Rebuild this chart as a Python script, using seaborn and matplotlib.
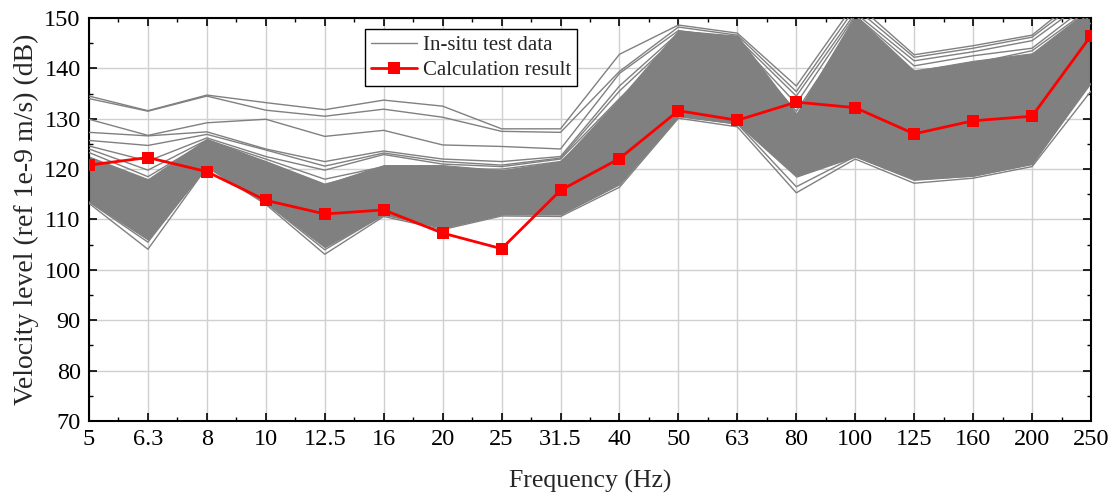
import matplotlib
matplotlib.use("Agg")
import matplotlib.pyplot as plt
from matplotlib.lines import Line2D
from matplotlib.ticker import MultipleLocator, FixedLocator
import numpy as np
import pandas as pd
import seaborn as sns

freq_labels = ["5", "6.3", "8", "10", "12.5", "16", "20", "25", "31.5", "40",
               "50", "63", "80", "100", "125", "160", "200", "250"]

calc_result = [120.8, 122.3, 119.5, 113.8, 111.1, 111.9, 107.3, 104.2, 115.8,
               122.1, 131.6, 129.7, 133.3, 132.2, 127.0, 129.6, 130.5, 146.5]

# dense core of the in-situ test data (lower / upper edges of the bundle)
band_low = [113.6, 106.0, 120.5, 113.3, 104.5, 111.0, 108.3, 111.0, 111.0,
            117.0, 130.5, 129.0, 118.5, 122.5, 118.0, 118.7, 121.0, 137.5]
band_high = [122.5, 118.0, 126.0, 121.5, 117.0, 120.8, 120.8, 119.8, 121.5,
             134.0, 147.5, 146.5, 131.0, 150.5, 139.5, 141.5, 143.0, 152.0]

# individually visible test curves
run_a = [134.5, 131.6, 134.7, 133.2, 131.8, 133.7, 132.5, 128.0, 128.0,
         142.8, 148.6, 147.0, 136.5, 153.0, 142.7, 144.5, 146.6, 156.0]
run_b = [134.0, 131.5, 134.5, 131.7, 130.5, 131.9, 130.3, 127.5, 127.3,
         139.4, 148.2, 146.6, 135.4, 152.0, 142.2, 144.0, 146.2, 155.0]
run_c = [129.9, 126.7, 129.2, 129.9, 126.5, 127.7, 124.8, 124.5, 124.0,
         139.0, 147.5, 146.0, 134.5, 151.0, 141.5, 143.3, 145.5, 154.0]
run_d = [127.3, 126.6, 127.4, 124.0, 121.5, 123.6, 122.0, 121.5, 122.5,
         136.5, 147.0, 145.5, 133.0, 150.5, 140.5, 142.5, 144.0, 153.0]
run_e = [125.7, 124.7, 126.9, 123.8, 120.6, 123.2, 121.5, 120.8, 122.2,
         135.5, 146.5, 145.0, 131.5, 149.0, 139.5, 141.0, 143.5, 152.0]
run_f = [124.6, 121.6, 126.2, 122.5, 119.8, 122.9, 121.0, 120.5, 122.0,
         134.0, 145.5, 144.0, 130.0, 147.0, 138.0, 140.0, 142.5, 151.0]
run_g = [124.0, 119.8, 125.8, 122.0, 118.0, 120.5, 120.0, 120.0, 121.5,
         132.0, 144.0, 142.0, 129.0, 145.0, 136.0, 138.5, 141.5, 150.5]
run_h = [123.3, 118.5, 125.5, 121.5, 117.0, 120.0, 119.5, 119.5, 121.0,
         130.0, 142.0, 140.0, 128.0, 142.0, 134.0, 136.0, 139.0, 149.0]
run_low_a = [113.2, 104.1, 120.4, 113.0, 103.1, 110.6, 108.0, 110.7, 110.6,
             116.4, 130.1, 128.4, 115.3, 122.0, 117.2, 118.2, 120.5, 135.5]
run_low_b = [113.5, 105.5, 120.6, 113.3, 104.0, 110.9, 108.5, 111.0, 111.0,
             117.0, 130.5, 129.0, 116.5, 122.5, 117.8, 118.6, 121.0, 137.0]

runs = {"a": run_a, "b": run_b, "c": run_c, "d": run_d, "e": run_e,
        "f": run_f, "g": run_g, "h": run_h, "la": run_low_a, "lb": run_low_b}

pos = np.arange(len(freq_labels))
rows = []
for name, vals in runs.items():
    for p, v in zip(pos, vals):
        rows.append({"run": name, "pos": p, "val": v})
df_runs = pd.DataFrame(rows)
df_calc = pd.DataFrame({"pos": pos, "val": calc_result})

sns.set_theme(style="white")
plt.rcParams["font.family"] = ["Liberation Serif", "DejaVu Serif"]

fig = plt.figure(figsize=(11.18, 4.96), dpi=100)
ax = fig.add_axes([89 / 1118, 1 - 421 / 496, 1002 / 1118, 403 / 496])

gray = "#808080"
ax.fill_between(pos, band_low, band_high, color=gray, lw=0.8, edgecolor=gray, zorder=2)
sns.lineplot(data=df_runs, x="pos", y="val", units="run", estimator=None,
             color=gray, lw=1.0, ax=ax, zorder=3, legend=False)
sns.lineplot(data=df_calc, x="pos", y="val", color="#ff0000", lw=2.0,
             marker="s", markersize=9, markeredgewidth=0, ax=ax, zorder=5,
             legend=False)

ax.set_xlim(0, len(freq_labels) - 1)
ax.set_ylim(70, 150)
ax.set_xticks(pos)
ax.set_xticklabels(freq_labels)
ax.xaxis.set_minor_locator(FixedLocator(pos[:-1] + 0.5))
ax.yaxis.set_major_locator(MultipleLocator(10))
ax.yaxis.set_minor_locator(MultipleLocator(5))

ax.grid(True, which="major", color="#d0d0d0", lw=1.0, zorder=0)
ax.set_axisbelow(True)

ax.tick_params(which="both", direction="in", top=True, right=True,
               bottom=True, left=True, colors="black")
ax.tick_params(which="major", length=6, width=1.2, labelsize=17.5, pad=6)
ax.tick_params(which="minor", length=3, width=1.0)
for s in ax.spines.values():
    s.set_color("black")
    s.set_linewidth(1.5)

ax.set_xlabel("Frequency (Hz)", fontsize=18.5, labelpad=14)
ax.set_ylabel("Velocity level (ref 1e-9 m/s) (dB)", fontsize=20, labelpad=4)

handles = [Line2D([], [], color=gray, lw=1.0),
           Line2D([], [], color="#ff0000", lw=2.0, marker="s", markersize=9,
                  markeredgewidth=0)]
leg = ax.legend(handles, ["In-situ test data", "Calculation result"],
                loc="upper left", bbox_to_anchor=(0.275, 0.972), fontsize=15,
                frameon=True, fancybox=False, framealpha=1, edgecolor="black",
                handlelength=2.2, borderpad=0.3, labelspacing=0.25,
                handletextpad=0.3, borderaxespad=0)
leg.get_frame().set_linewidth(1.0)
leg.set_zorder(10)

fig.savefig("out.png", dpi=100)
